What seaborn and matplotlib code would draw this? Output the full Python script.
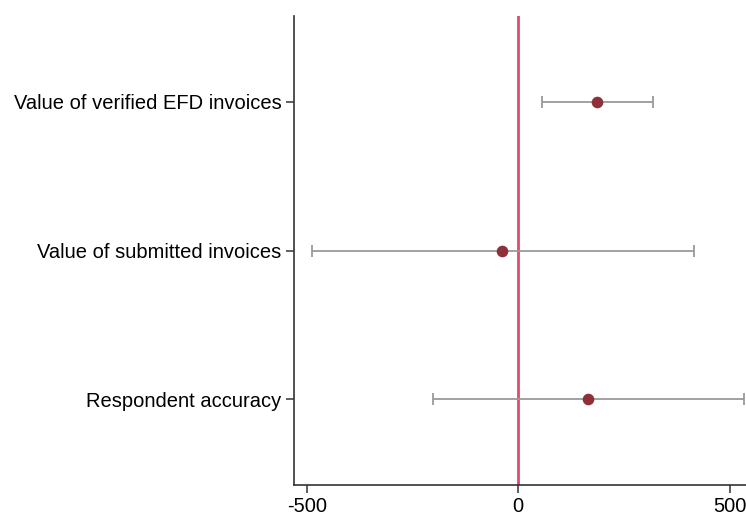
import pandas as pd
import matplotlib
matplotlib.use("Agg")
import matplotlib.pyplot as plt
import seaborn as sns

# coefficient estimates and confidence bounds
outcomes = ["Value of verified EFD invoices", "Value of submitted invoices", "Respondent accuracy"]
estimate = [187, -38, 165]
ci_low = [56, -488, -202]
ci_high = [319, 415, 534]

df = pd.DataFrame({"outcome": outcomes, "estimate": estimate, "lo": ci_low, "hi": ci_high})

sns.set_style("white")
plt.rcParams["font.family"] = ["Liberation Sans", "DejaVu Sans"]
plt.rcParams["axes.unicode_minus"] = False

fig = plt.figure(figsize=(7.46, 5.16), dpi=100)
ax = fig.add_axes([294 / 746, 31 / 516, 1 - 294 / 746, 469 / 516])

ax.errorbar(df["estimate"], df["outcome"],
            xerr=[df["estimate"] - df["lo"], df["hi"] - df["estimate"]],
            fmt="none", ecolor="#9a9a9a", elinewidth=1.3, capsize=4, capthick=1.3, zorder=2)
ax.axvline(0, color="#e04a6c", lw=2, zorder=1)
sns.scatterplot(data=df, x="estimate", y="outcome", color="#8f2f3a", s=70,
                edgecolor="#8f2f3a", linewidth=0, ax=ax, zorder=3)

ax.set_xlim(-530, 539)
ax.set_ylim(2.575, -0.575)
ax.set_xticks([-500, 0, 500])
ax.set_xlabel("")
ax.set_ylabel("")

for side in ["top", "right"]:
    ax.spines[side].set_visible(False)
for side in ["left", "bottom"]:
    ax.spines[side].set_color("#333333")
    ax.spines[side].set_linewidth(1.2)

ax.tick_params(axis="both", which="both", direction="out", length=6, width=1.1,
               color="#333333", labelsize=14.5, labelcolor="black",
               left=True, bottom=True, pad=3)

fig.savefig("out.png", dpi=100)
